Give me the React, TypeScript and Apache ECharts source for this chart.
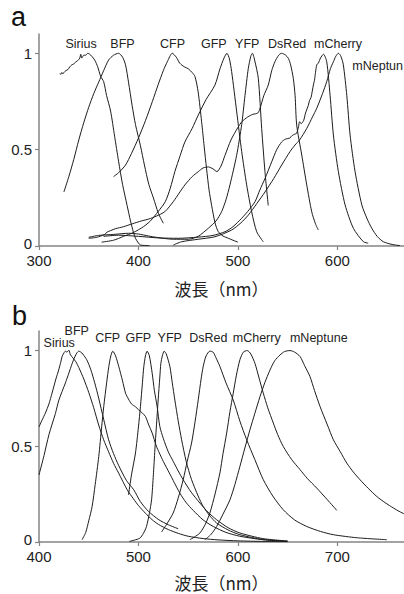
import React, { useEffect, useRef } from "react";
import * as echarts from "echarts";

// ---------- Panel a: excitation spectra (nm, normalized) ----------
const siriusEx = [[321,0.895],[322,0.89],[323,0.9],[324,0.893],[325,0.9],[327,0.91],[329,0.915],[331,0.93],[333,0.94],[335,0.945],[337,0.955],[339,0.962],[341,0.975],[342,0.995],[343,0.975],[345,0.99],[347,0.99],[349,1.0],[351,0.995],[353,0.985],[356,0.965],[359,0.93],[362,0.88],[365,0.853],[368,0.78],[372,0.70],[376,0.57],[380,0.44],[384,0.32],[388.6,0.21],[392,0.13],[395,0.07],[397,0.04],[400,0.015],[402,0.005],[406,0.003],[411,0.002]];
const bfpEx = [[325,0.28],[330,0.36],[335,0.45],[340,0.55],[345,0.64],[350,0.72],[355,0.79],[360,0.85],[365,0.91],[370,0.965],[375,0.99],[380,1.0],[384,0.98],[387,0.94],[390,0.85],[393.6,0.73],[397,0.63],[402,0.52],[406,0.42],[410.4,0.32],[415,0.25],[420,0.17],[425,0.118]];
const cfpEx = [[375,0.36],[380,0.38],[387,0.42],[393,0.48],[400,0.56],[407,0.65],[414,0.75],[420,0.84],[425,0.91],[429,0.956],[434,1.0],[438,0.98],[441.6,0.948],[446,0.93],[450,0.92],[454,0.9],[456.8,0.88],[460,0.80],[463.5,0.645],[466,0.52],[468.5,0.40],[471,0.29],[473.6,0.21],[477,0.12],[480.3,0.074],[485,0.052],[490.4,0.04],[495,0.03],[500,0.02]];
const gfpEx = [[363,0.02],[375,0.03],[385,0.05],[395,0.07],[405,0.1],[412,0.13],[420,0.18],[427,0.23],[432,0.3],[436.6,0.386],[442,0.47],[446.7,0.54],[454,0.61],[460.2,0.68],[468,0.76],[476.9,0.835],[482,0.92],[486,0.975],[489,1.0],[491.5,0.97],[493.7,0.905],[498.7,0.7],[503.8,0.49],[508.8,0.317],[513.8,0.178],[518.9,0.074],[525.5,0.022]];
const yfpEx = [[350,0.045],[360,0.055],[375,0.06],[390,0.066],[400,0.062],[410,0.052],[418,0.045],[435,0.035],[450,0.035],[460,0.05],[470.2,0.092],[478,0.13],[483.6,0.178],[488,0.24],[492,0.317],[498.7,0.47],[503.8,0.63],[507.1,0.78],[510.4,0.92],[513,0.985],[514.6,1.0],[517,0.96],[520.5,0.87],[523.9,0.61],[527.2,0.386],[530.5,0.21]];
const dsredEx = [[350,0.04],[358,0.045],[366,0.06],[368.5,0.072],[372,0.08],[377,0.09],[385,0.1],[393.7,0.115],[403,0.13],[410.4,0.14],[418,0.155],[426.5,0.178],[435,0.23],[441,0.275],[446.7,0.317],[454,0.36],[460.2,0.386],[465,0.405],[470.5,0.41],[475,0.4],[478.9,0.386],[483,0.415],[487,0.47],[493,0.55],[500,0.615],[504,0.645],[510,0.67],[515,0.683],[520,0.69],[522,0.71],[526,0.78],[530.5,0.835],[534,0.91],[537.2,0.956],[541,0.99],[544,1.0],[548,0.99],[550.7,0.974],[553,0.94],[555.7,0.87],[557.5,0.78],[559.1,0.628],[564.2,0.472],[569.2,0.317],[574.2,0.178],[578,0.115],[580.9,0.083]];
const mcherryEx = [[365,0.05],[380,0.056],[400,0.05],[420,0.042],[440,0.04],[460,0.046],[475,0.055],[487,0.074],[495,0.1],[503.8,0.144],[510,0.18],[517.2,0.23],[522,0.29],[527.2,0.35],[534,0.437],[539,0.5],[544,0.54],[548,0.555],[552,0.56],[555,0.575],[557,0.58],[559,0.585],[561,0.62],[562,0.645],[563.5,0.635],[566,0.65],[568,0.69],[570.8,0.73],[572,0.755],[573.5,0.77],[575.9,0.836],[577,0.86],[578,0.9],[579.3,0.94],[581,0.95],[583,0.975],[586,0.995],[589.3,0.956],[592.7,0.78],[596,0.576],[601,0.386],[607.8,0.213],[616.1,0.092],[626.2,0.022],[631,0.015]];
const mneptuneEx = [[435,0.005],[443.4,0.022],[460,0.035],[476.9,0.048],[493.7,0.083],[503,0.12],[510.4,0.16],[519,0.22],[527.2,0.28],[536,0.35],[544,0.42],[552.4,0.49],[557.4,0.524],[562,0.55],[569.2,0.61],[575,0.67],[579.3,0.715],[585,0.79],[589.3,0.853],[593,0.92],[596,0.956],[598.5,0.985],[601,1.0],[603.5,0.985],[606,0.94],[609.5,0.78],[612.8,0.576],[617.8,0.386],[624.6,0.213],[630,0.14],[634.6,0.092],[640,0.05],[646.3,0.022],[655,0.008],[663,0.002]];

// ---------- Panel b: emission spectra (nm, normalized) ----------
const siriusEm = [[400,0.6],[403,0.635],[406.4,0.672],[410,0.72],[413.1,0.776],[417,0.85],[419.8,0.897],[422,0.94],[423.2,0.967],[425,0.985],[426.6,0.995],[428,0.99],[430,1.0],[431.6,0.976],[434,0.96],[437,0.94],[440,0.91],[445,0.85],[450,0.78],[455,0.7],[460,0.61],[465,0.533],[470,0.47],[475,0.41],[480,0.36],[488.7,0.272],[495,0.225],[500,0.19],[507,0.15],[513.8,0.116],[520,0.092],[530,0.065],[540,0.045],[550,0.03],[565,0.018],[580,0.011],[600,0.006],[625,0.003],[650,0.002]];
const bfpEm = [[400,0.35],[405,0.45],[410,0.56],[416.5,0.67],[420,0.74],[426.6,0.83],[430,0.88],[433.3,0.93],[436,0.965],[438,0.985],[440,0.995],[442,0.99],[444,0.98],[448,0.95],[452,0.9],[456,0.83],[460,0.75],[465,0.64],[470,0.533],[475,0.46],[480,0.4],[488,0.32],[495.3,0.272],[502,0.21],[510,0.16],[520.5,0.116],[530,0.09],[540,0.069]];
const cfpEm = [[443.3,0.012],[447,0.05],[450,0.11],[453.4,0.185],[456.5,0.3],[460.1,0.446],[463,0.6],[465.1,0.706],[468,0.83],[470.2,0.915],[472.2,0.97],[474.2,0.995],[477,0.97],[480.2,0.915],[484,0.84],[487,0.776],[490,0.745],[493,0.72],[497,0.705],[500,0.69],[504,0.672],[507.1,0.654],[510,0.615],[513.8,0.568],[518,0.5],[521,0.464],[525,0.42],[531,0.36],[536,0.31],[541.6,0.255],[548,0.205],[555,0.165],[565,0.115],[575.2,0.081],[588,0.05],[602,0.03],[625,0.012],[650,0.004]];
const gfpEm = [[490,0.246],[493,0.35],[497,0.464],[500,0.6],[502,0.706],[504,0.83],[505.4,0.915],[507,0.97],[508.7,0.995],[511,0.97],[513.8,0.88],[516,0.79],[518.8,0.706],[521.5,0.602],[525,0.54],[530,0.47],[535,0.42],[540,0.37],[545,0.324],[553,0.26],[561.8,0.203],[570,0.155],[578.6,0.116],[590,0.075],[602,0.047],[625,0.018],[650,0.005]];
const yfpEm = [[491,0.003],[496,0.01],[501.4,0.02],[505,0.045],[508.1,0.081],[511,0.15],[513.2,0.22],[515,0.35],[516.5,0.48],[518,0.6],[519.8,0.74],[521.5,0.86],[522.5,0.93],[524,0.97],[525.9,0.995],[528,0.98],[531.6,0.915],[534,0.83],[536.6,0.74],[540,0.63],[543.4,0.533],[548,0.42],[553.4,0.325],[560,0.24],[565.1,0.185],[572,0.135],[578.6,0.099],[590,0.063],[602,0.038],[625,0.013],[649,0.003]];
const dsredEm = [[523.2,0.052],[528,0.09],[534.9,0.151],[540,0.23],[545,0.325],[549,0.42],[553.4,0.516],[557,0.63],[560.1,0.741],[563,0.85],[565.1,0.915],[568,0.97],[571.8,0.995],[575,0.99],[578,0.96],[581.9,0.915],[588,0.83],[595.3,0.74],[602,0.63],[608.8,0.533],[617,0.43],[625.5,0.325],[635,0.24],[645.6,0.168],[657,0.115],[669.2,0.081],[683,0.055],[696,0.038],[720,0.022],[749.7,0.012]];
const mcherryEm = [[551.7,0.012],[556,0.025],[561.8,0.047],[567,0.09],[571.8,0.151],[577,0.25],[581.9,0.36],[585,0.46],[588.7,0.568],[592,0.68],[595.3,0.776],[598.5,0.87],[602,0.95],[605.5,0.99],[609.4,0.998],[613,0.98],[617.2,0.93],[621,0.86],[625.5,0.776],[630,0.7],[635.6,0.62],[640,0.56],[645.6,0.498],[654,0.43],[662.5,0.377],[670,0.33],[679.3,0.281],[690,0.22],[699.4,0.165]];
const mneptuneEm = [[566.8,0.012],[573,0.04],[578.6,0.081],[585,0.145],[592,0.22],[597,0.3],[602,0.394],[607,0.49],[612.1,0.585],[617,0.67],[622.2,0.758],[627,0.83],[632.3,0.897],[637,0.945],[642.3,0.975],[647,0.993],[652.4,0.998],[657,0.99],[662.5,0.967],[667,0.92],[672.5,0.862],[677,0.79],[682.6,0.706],[690,0.61],[696,0.533],[703,0.47],[709.5,0.411],[716,0.365],[722.9,0.324],[731,0.28],[739.7,0.237],[748,0.205],[756.4,0.177],[762,0.16],[767,0.147]];

const seriesA = [siriusEx, bfpEx, cfpEx, gfpEx, yfpEx, dsredEx, mcherryEx, mneptuneEx];
const seriesB = [siriusEm, bfpEm, cfpEm, gfpEm, yfpEm, dsredEm, mcherryEm, mneptuneEm];

const namesA = ["Sirius", "BFP", "CFP", "GFP", "YFP", "DsRed", "mCherry", "mNeptun"];
const namesB = ["Sirius", "BFP", "CFP", "GFP", "YFP", "DsRed", "mCherry", "mNeptune"];

const xTicksA = [300, 400, 500, 600];
const xTicksB = [400, 500, 600, 700];
const yTicks = [0, 0.5, 1];

// label placements (pixels)
const labelPosA = [[81, 44, "center"], [122.5, 44, "center"], [172.5, 44, "center"], [213.8, 44, "center"], [247.2, 44, "center"], [287.2, 44, "center"], [338, 44, "center"], [352.3, 66.3, "left"]];
const labelPosB = [[59.2, 343.2, "center"], [76.7, 330.8, "center"], [107.7, 338.3, "center"], [138.3, 338.3, "center"], [169.7, 338.3, "center"], [208.3, 338.3, "center"], [256.7, 338.3, "center"], [318.8, 338.3, "center"]];

const FONT = "'Liberation Sans', Arial, Helvetica, sans-serif";
const CJK = "'Noto Sans CJK JP', 'Noto Sans CJK SC', sans-serif";
const AXIS_COLOR = "#858585";
const TEXT_COLOR = "#222";
const LINE_COLOR = "#1c1c1c";

export default function App() {
  const ref = useRef<HTMLDivElement>(null);
  useEffect(() => {
    if (!ref.current) return;
    const chart = echarts.init(ref.current, null, { renderer: "svg" });

    const mkX = (idx: number, min: number, max: number, ticks: number[], gap: number) => ({
      type: "value",
      gridIndex: idx,
      min,
      max,
      axisLine: { show: true, lineStyle: { color: AXIS_COLOR, width: 1.5 } },
      axisTick: { show: true, length: 4, customValues: ticks, lineStyle: { color: AXIS_COLOR, width: 1.2 } },
      axisLabel: { customValues: ticks, fontSize: 15, fontFamily: FONT, color: TEXT_COLOR, margin: 7 },
      splitLine: { show: false },
      name: "波長（nm）",
      nameLocation: "middle",
      nameGap: gap,
      nameTextStyle: { fontSize: 17, fontFamily: CJK, color: TEXT_COLOR },
    });
    const mkY = (idx: number) => ({
      type: "value",
      gridIndex: idx,
      min: 0,
      max: 1.1,
      axisLine: { show: true, lineStyle: { color: AXIS_COLOR, width: 1.5 } },
      axisTick: { show: true, length: 4, customValues: yTicks, lineStyle: { color: AXIS_COLOR, width: 1.2 } },
      axisLabel: {
        customValues: yTicks,
        fontSize: 15,
        fontFamily: FONT,
        color: TEXT_COLOR,
        margin: 7,
        formatter: (v: number) => (v === 0 ? "{z|0}" : String(v)),
        rich: { z: { fontSize: 15, fontFamily: FONT, color: TEXT_COLOR, padding: [0, 0, 6, 0] } },
      },
      splitLine: { show: false },
    });

    const lineSeries = (data: number[][], idx: number, name: string) => ({
      type: "line",
      name,
      xAxisIndex: idx,
      yAxisIndex: idx,
      data,
      showSymbol: false,
      symbol: "none",
      smooth: 0.25,
      lineStyle: { color: LINE_COLOR, width: 1 },
      z: 3,
    });

    const labelTexts = (names: string[], pos: any[]) =>
      names.map((n, i) => ({
        type: "text",
        x: pos[i][0],
        y: pos[i][1],
        style: {
          text: n,
          fontSize: 12.5,
          lineHeight: 12,
          fontFamily: FONT,
          fill: TEXT_COLOR,
          align: pos[i][2],
          verticalAlign: "middle",
        },
      }));

    chart.setOption({
      animation: false,
      backgroundColor: "#fff",
      grid: [
        { left: 39, top: 34, right: 0, height: 212 },
        { left: 39, top: 331, right: 0, height: 211 },
      ],
      xAxis: [mkX(0, 300, 667, xTicksA, 34), mkX(1, 400, 767, xTicksB, 32)],
      yAxis: [mkY(0), mkY(1)],
      series: [
        ...seriesA.map((d, i) => lineSeries(d, 0, "a-" + namesA[i])),
        ...seriesB.map((d, i) => lineSeries(d, 1, "b-" + namesB[i])),
      ],
      graphic: [
        { type: "text", x: 11, y: 17, style: { text: "a", fontSize: 27, fontFamily: FONT, fill: "#111", align: "left", verticalAlign: "middle" } },
        { type: "text", x: 12, y: 316, style: { text: "b", fontSize: 27, fontFamily: FONT, fill: "#111", align: "left", verticalAlign: "middle" } },
        ...labelTexts(namesA, labelPosA),
        ...labelTexts(namesB, labelPosB),
      ],
    });
    return () => chart.dispose();
  }, []);

  return (
    <div
      ref={ref}
      style={{ position: "absolute", left: 0, top: 0, width: 404, height: 594 }}
    />
  );
}
